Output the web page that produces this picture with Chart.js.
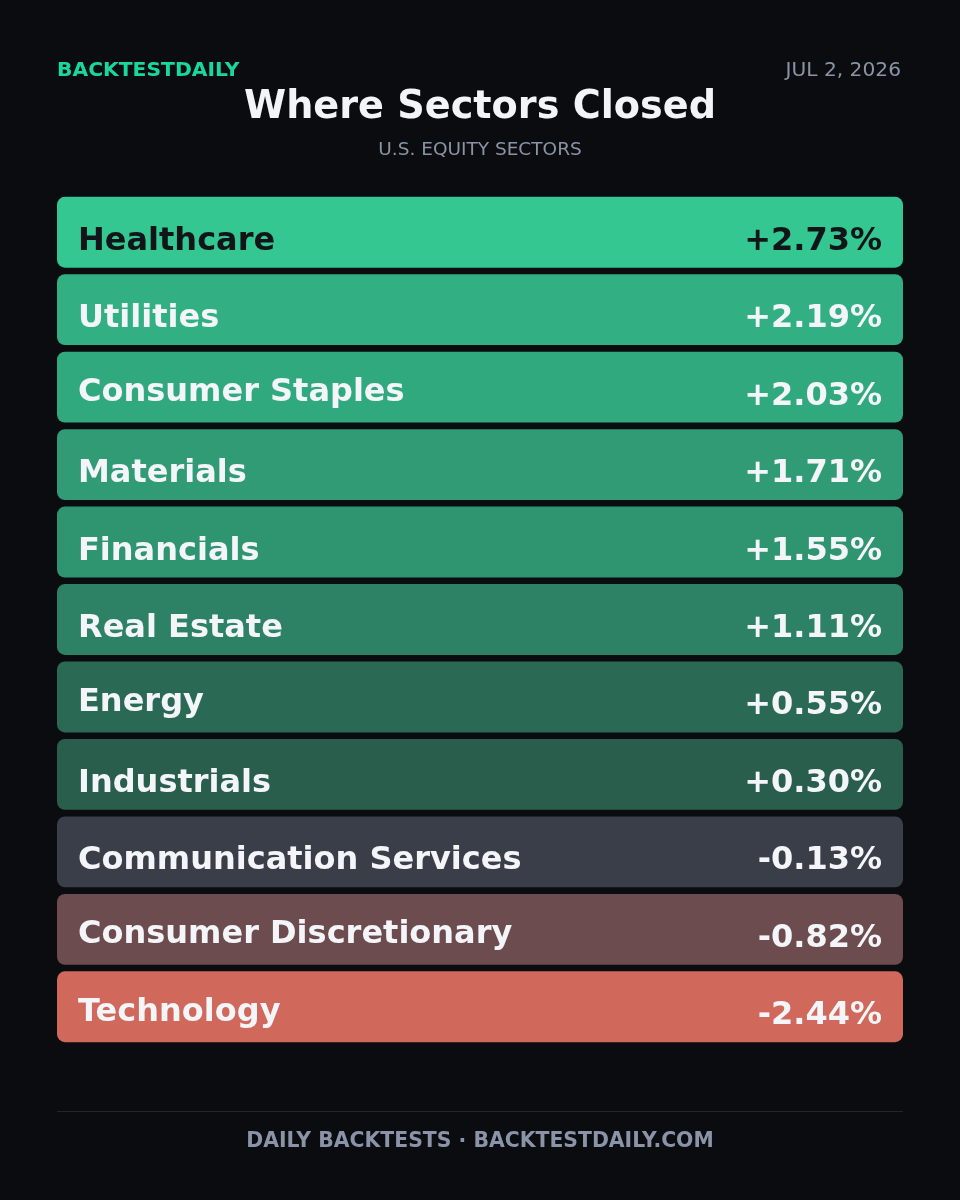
<!DOCTYPE html>
<html>
<head>
<meta charset="utf-8">
<script src="https://cdn.jsdelivr.net/npm/chart.js@4.4.1/dist/chart.umd.min.js"></script>
<style>
  html, body { margin: 0; padding: 0; background: #0b0c10; }
  #wrap { width: 960px; height: 1200px; position: relative; }
</style>
</head>
<body>
<div id="wrap"><canvas id="sectorChart"></canvas></div>
<script>
// sectors sorted by daily change, best first
const sectors = [
  "Healthcare",
  "Utilities",
  "Consumer Staples",
  "Materials",
  "Financials",
  "Real Estate",
  "Energy",
  "Industrials",
  "Communication Services",
  "Consumer Discretionary",
  "Technology",
];
const changes = [2.73, 2.19, 2.03, 1.71, 1.55, 1.11, 0.55, 0.30, -0.13, -0.82, -2.44];

const brand = "BACKTESTDAILY";
const dateText = "JUL 2, 2026";
const title = "Where Sectors Closed";
const subtitle = "U.S. EQUITY SECTORS";
const footer = "DAILY BACKTESTS \u00b7 BACKTESTDAILY.COM";

const FONT = "'DejaVu Sans', sans-serif";

function hex(c) {
  return [parseInt(c.slice(1, 3), 16), parseInt(c.slice(3, 5), 16), parseInt(c.slice(5, 7), 16)];
}
function mix(a, b, t) {
  const A = hex(a), B = hex(b);
  return A.map((v, i) => Math.round(v + (B[i] - v) * t));
}

const maxUp = Math.max(...changes);
const maxDown = Math.min(...changes);

function tileRgb(v) {
  if (Math.abs(v) < 0.2) return hex("#3a3e48");
  if (v > 0) return mix("#285144", "#34c792", v / maxUp);
  return mix("#3a3e48", "#d0685b", v / maxDown);
}
const tileColors = changes.map(v => "rgb(" + tileRgb(v).join(",") + ")");
const textColors = changes.map(v => {
  const c = tileRgb(v);
  const lum = 0.2126 * c[0] + 0.7152 * c[1] + 0.0722 * c[2];
  return lum > 150 ? "#111418" : "#f3f5f9";
});

function fmt(v) {
  return (v > 0 ? "+" : "") + v.toFixed(2) + "%";
}

const frame = {
  id: "frame",
  beforeDraw(chart) {
    const ctx = chart.ctx;
    ctx.save();
    ctx.fillStyle = "#0b0c10";
    ctx.fillRect(0, 0, chart.width, chart.height);
    ctx.restore();
  },
  afterDraw(chart) {
    const ctx = chart.ctx;
    const area = chart.chartArea;
    ctx.save();
    ctx.textBaseline = "alphabetic";

    ctx.font = "bold 20.3px " + FONT;
    ctx.fillStyle = "#19d99a";
    ctx.textAlign = "left";
    ctx.fillText(brand, area.left, 76);

    ctx.font = "20.2px " + FONT;
    ctx.fillStyle = "#8b93a5";
    ctx.textAlign = "right";
    ctx.fillText(dateText, area.right - 2, 76);

    ctx.font = "bold 38.2px " + FONT;
    ctx.fillStyle = "#f3f4f8";
    ctx.textAlign = "center";
    ctx.fillText(title, chart.width / 2, 118);

    ctx.font = "18.5px " + FONT;
    ctx.fillStyle = "#8b93a5";
    ctx.fillText(subtitle, chart.width / 2, 155);

    ctx.strokeStyle = "#23262d";
    ctx.lineWidth = 1;
    ctx.beginPath();
    ctx.moveTo(area.left, 1111.5);
    ctx.lineTo(area.right, 1111.5);
    ctx.stroke();

    ctx.font = "bold 20.4px " + FONT;
    ctx.fillStyle = "#8a93a7";
    ctx.fillText(footer, chart.width / 2, 1147);
    ctx.restore();
  },
  afterDatasetsDraw(chart) {
    const ctx = chart.ctx;
    const meta = chart.getDatasetMeta(0);
    ctx.save();
    ctx.textBaseline = "alphabetic";
    ctx.font = "bold 32px " + FONT;
    meta.data.forEach((bar, i) => {
      ctx.fillStyle = textColors[i];
      const name = sectors[i];
      const m = ctx.measureText(name);
      ctx.textAlign = "left";
      ctx.fillText(name, bar.base + 21, bar.y + 17.5 - m.actualBoundingBoxDescent / 2);
      ctx.textAlign = "right";
      ctx.fillText(fmt(changes[i]), bar.x - 21, bar.y + 17.5);
    });
    ctx.restore();
  },
};

new Chart(document.getElementById("sectorChart"), {
  type: "bar",
  data: {
    labels: sectors,
    datasets: [
      {
        // every tile spans the full row; colour and label carry the change
        data: changes.map(() => 1),
        backgroundColor: tileColors,
        borderWidth: 0,
        borderRadius: 8,
        borderSkipped: false,
        barPercentage: 0.915,
        categoryPercentage: 1,
      },
    ],
  },
  options: {
    indexAxis: "y",
    responsive: true,
    maintainAspectRatio: false,
    animation: false,
    layout: { padding: { left: 57, right: 57, top: 193.5, bottom: 154.5 } },
    scales: {
      x: { display: false, min: 0, max: 1 },
      y: { display: false },
    },
    plugins: {
      legend: { display: false },
      tooltip: { enabled: false },
    },
  },
  plugins: [frame],
});
</script>
</body>
</html>
